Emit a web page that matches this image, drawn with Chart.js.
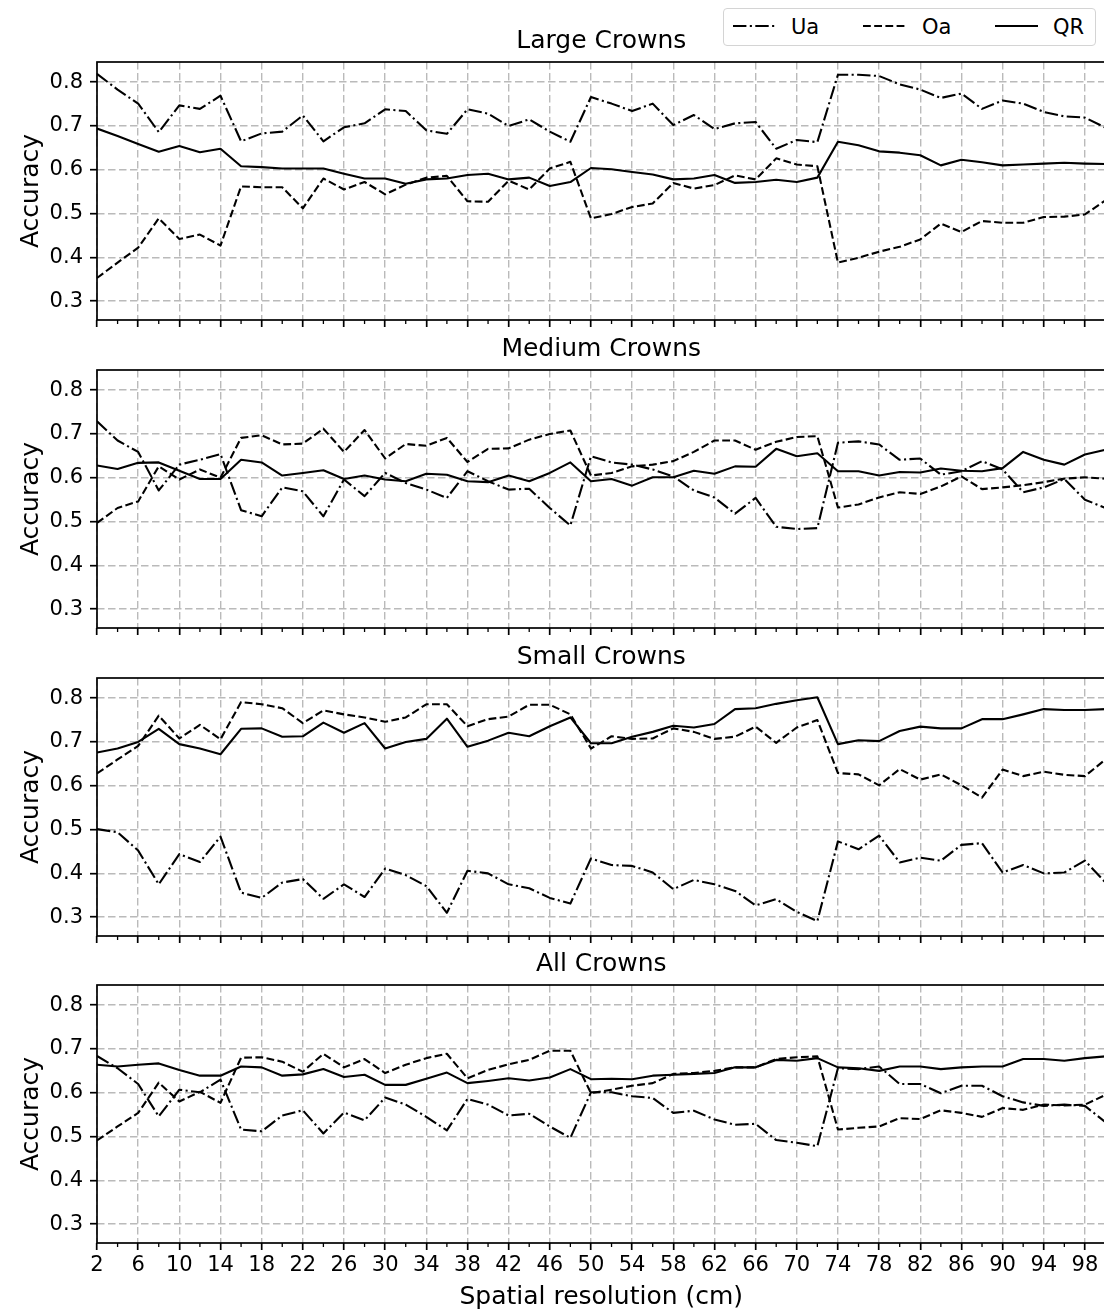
<!DOCTYPE html>
<html lang="en">
<head>
    <meta charset="UTF-8">
    <title>Accuracy vs spatial resolution</title>
    <script src="https://cdn.jsdelivr.net/npm/chart.js"></script>
    <style>
        html, body {
            margin: 0;
            padding: 0;
            width: 1104px;
            height: 1312px;
            overflow: hidden;
            background: #fff;
            font-family: 'DejaVu Sans', sans-serif;
        }
        .panel {
            position: absolute;
            left: 0;
        }
        #legend {
            position: absolute;
            left: 723px;
            top: 8px;
            width: 371px;
            height: 36px;
            border: 1px solid #d4d4d4;
            border-radius: 4px;
            background: #fff;
        }
        #legend svg, #legend span {
            position: absolute;
        }
        #legend span {
            top: 8px;
            font-size: 21px;
            line-height: 21px;
            color: #000;
        }
    </style>
</head>
<body>
    <canvas id="chartLarge" class="panel" width="1130" height="314" style="top:26px"></canvas>
    <canvas id="chartMedium" class="panel" width="1130" height="314" style="top:334px"></canvas>
    <canvas id="chartSmall" class="panel" width="1130" height="314" style="top:642px"></canvas>
    <canvas id="chartAll" class="panel" width="1130" height="363" style="top:949px"></canvas>

    <div id="legend">
        <svg style="left:9px; top:14px" width="44" height="6"><line x1="0" y1="3" x2="44" y2="3" stroke="#000" stroke-width="2.1" stroke-dasharray="13.4 3.4 2.1 3.4"/></svg>
        <span style="left:67px">Ua</span>
        <svg style="left:139px; top:14px" width="42" height="6"><line x1="0" y1="3" x2="42" y2="3" stroke="#000" stroke-width="2.1" stroke-dasharray="7.8 3.4"/></svg>
        <span style="left:198px">Oa</span>
        <svg style="left:271px; top:14px" width="43" height="6"><line x1="0" y1="3" x2="43" y2="3" stroke="#000" stroke-width="2.1"/></svg>
        <span style="left:329px">QR</span>
    </div>

    <script>
        // --- data ---
        const xValues = [2, 4, 6, 8, 10, 12, 14, 16, 18, 20, 22, 24, 26, 28, 30, 32, 34, 36, 38, 40, 42, 44, 46, 48, 50,
                         52, 54, 56, 58, 60, 62, 64, 66, 68, 70, 72, 74, 76, 78, 80, 82, 84, 86, 88, 90, 92, 94, 96, 98, 100];
        const xTickLabels = ['2', '6', '10', '14', '18', '22', '26', '30', '34', '38', '42', '46', '50',
                             '54', '58', '62', '66', '70', '74', '78', '82', '86', '90', '94', '98'];
        const yTicks = [0.3, 0.4, 0.5, 0.6, 0.7, 0.8];

        const largeUa = [0.819, 0.783, 0.751, 0.686, 0.747, 0.739, 0.769, 0.665, 0.683, 0.687, 0.724, 0.665, 0.697, 0.706, 0.738, 0.734, 0.690, 0.682, 0.738, 0.728, 0.700, 0.715, 0.687, 0.664, 0.766,
                         0.751, 0.734, 0.751, 0.702, 0.725, 0.693, 0.706, 0.709, 0.648, 0.668, 0.663, 0.817, 0.817, 0.814, 0.795, 0.783, 0.764, 0.774, 0.739, 0.758, 0.751, 0.732, 0.722, 0.719, 0.696];
        const largeOa = [0.353, 0.388, 0.422, 0.489, 0.442, 0.452, 0.427, 0.562, 0.560, 0.560, 0.512, 0.580, 0.555, 0.572, 0.544, 0.566, 0.582, 0.586, 0.528, 0.527, 0.575, 0.555, 0.603, 0.618, 0.489,
                         0.499, 0.515, 0.523, 0.570, 0.557, 0.565, 0.587, 0.578, 0.626, 0.612, 0.608, 0.388, 0.399, 0.413, 0.424, 0.441, 0.477, 0.458, 0.483, 0.479, 0.479, 0.492, 0.493, 0.498, 0.530];
        const largeQR = [0.694, 0.677, 0.659, 0.641, 0.654, 0.640, 0.648, 0.608, 0.606, 0.603, 0.603, 0.603, 0.591, 0.580, 0.580, 0.568, 0.578, 0.580, 0.588, 0.591, 0.578, 0.582, 0.563, 0.572, 0.604,
                         0.601, 0.595, 0.589, 0.578, 0.580, 0.588, 0.570, 0.572, 0.577, 0.572, 0.582, 0.664, 0.656, 0.642, 0.639, 0.633, 0.610, 0.623, 0.617, 0.610, 0.612, 0.614, 0.616, 0.614, 0.613];

        const mediumUa = [0.729, 0.685, 0.659, 0.571, 0.630, 0.641, 0.654, 0.526, 0.512, 0.578, 0.569, 0.512, 0.596, 0.558, 0.611, 0.588, 0.573, 0.554, 0.615, 0.592, 0.573, 0.575, 0.531, 0.491, 0.649,
                          0.635, 0.630, 0.619, 0.603, 0.571, 0.555, 0.518, 0.554, 0.488, 0.483, 0.485, 0.680, 0.683, 0.676, 0.641, 0.644, 0.607, 0.615, 0.638, 0.619, 0.567, 0.578, 0.597, 0.550, 0.531];
        const mediumOa = [0.497, 0.531, 0.546, 0.626, 0.596, 0.619, 0.600, 0.691, 0.697, 0.676, 0.678, 0.712, 0.659, 0.709, 0.644, 0.677, 0.673, 0.691, 0.636, 0.666, 0.667, 0.687, 0.700, 0.708, 0.605,
                          0.611, 0.626, 0.630, 0.638, 0.659, 0.685, 0.685, 0.664, 0.682, 0.693, 0.695, 0.532, 0.539, 0.555, 0.567, 0.563, 0.580, 0.603, 0.574, 0.578, 0.583, 0.590, 0.598, 0.601, 0.598];
        const mediumQR = [0.628, 0.620, 0.634, 0.635, 0.616, 0.597, 0.597, 0.641, 0.635, 0.605, 0.611, 0.617, 0.597, 0.605, 0.596, 0.592, 0.609, 0.607, 0.592, 0.590, 0.605, 0.592, 0.611, 0.635, 0.592,
                          0.597, 0.582, 0.601, 0.601, 0.616, 0.609, 0.626, 0.625, 0.666, 0.649, 0.656, 0.615, 0.615, 0.605, 0.613, 0.612, 0.621, 0.616, 0.615, 0.622, 0.659, 0.641, 0.630, 0.653, 0.664];

        const smallUa = [0.501, 0.494, 0.452, 0.375, 0.444, 0.426, 0.484, 0.356, 0.344, 0.379, 0.387, 0.342, 0.375, 0.346, 0.411, 0.396, 0.371, 0.310, 0.406, 0.400, 0.375, 0.366, 0.344, 0.331, 0.434,
                         0.419, 0.417, 0.402, 0.364, 0.385, 0.375, 0.360, 0.327, 0.341, 0.312, 0.291, 0.473, 0.455, 0.486, 0.425, 0.436, 0.429, 0.465, 0.469, 0.402, 0.419, 0.400, 0.402, 0.429, 0.379];
        const smallOa = [0.628, 0.660, 0.691, 0.760, 0.708, 0.739, 0.706, 0.791, 0.786, 0.777, 0.743, 0.772, 0.763, 0.756, 0.746, 0.756, 0.786, 0.786, 0.736, 0.752, 0.758, 0.785, 0.785, 0.763, 0.685,
                         0.713, 0.707, 0.708, 0.731, 0.723, 0.707, 0.712, 0.735, 0.698, 0.733, 0.750, 0.629, 0.626, 0.601, 0.638, 0.614, 0.626, 0.601, 0.573, 0.637, 0.622, 0.632, 0.625, 0.622, 0.660];
        const smallQR = [0.676, 0.685, 0.700, 0.730, 0.695, 0.685, 0.672, 0.730, 0.731, 0.712, 0.713, 0.744, 0.721, 0.743, 0.685, 0.700, 0.707, 0.753, 0.689, 0.703, 0.721, 0.713, 0.736, 0.756, 0.697,
                         0.697, 0.712, 0.723, 0.737, 0.733, 0.741, 0.775, 0.777, 0.787, 0.795, 0.802, 0.695, 0.704, 0.702, 0.725, 0.735, 0.731, 0.731, 0.752, 0.752, 0.763, 0.775, 0.773, 0.773, 0.775];

        const allUa = [0.684, 0.656, 0.620, 0.546, 0.607, 0.601, 0.630, 0.516, 0.512, 0.548, 0.560, 0.507, 0.555, 0.537, 0.589, 0.573, 0.545, 0.514, 0.586, 0.573, 0.548, 0.552, 0.523, 0.497, 0.601,
                       0.601, 0.592, 0.588, 0.554, 0.559, 0.539, 0.527, 0.529, 0.492, 0.486, 0.478, 0.656, 0.654, 0.660, 0.620, 0.620, 0.599, 0.616, 0.616, 0.592, 0.578, 0.570, 0.573, 0.570, 0.533];
        const allOa = [0.491, 0.523, 0.554, 0.623, 0.580, 0.602, 0.577, 0.680, 0.681, 0.671, 0.648, 0.689, 0.658, 0.677, 0.645, 0.664, 0.679, 0.689, 0.633, 0.652, 0.665, 0.675, 0.696, 0.696, 0.599,
                       0.607, 0.616, 0.622, 0.643, 0.645, 0.650, 0.658, 0.658, 0.677, 0.681, 0.683, 0.516, 0.520, 0.523, 0.542, 0.540, 0.560, 0.554, 0.545, 0.565, 0.561, 0.573, 0.571, 0.573, 0.595];
        const allQR = [0.664, 0.660, 0.664, 0.667, 0.652, 0.639, 0.639, 0.660, 0.658, 0.639, 0.642, 0.654, 0.636, 0.641, 0.618, 0.618, 0.632, 0.646, 0.622, 0.627, 0.633, 0.628, 0.635, 0.654, 0.631,
                       0.632, 0.631, 0.639, 0.641, 0.643, 0.645, 0.658, 0.658, 0.675, 0.673, 0.679, 0.658, 0.656, 0.650, 0.660, 0.660, 0.654, 0.658, 0.660, 0.660, 0.677, 0.677, 0.673, 0.679, 0.683];

        // --- styling ---
        Chart.defaults.font.family = "'DejaVu Sans', sans-serif";
        Chart.defaults.color = '#000';

        const gridColor = '#bababa';
        const dashUa = [13.4, 3.4, 2.1, 3.4];
        const dashOa = [7.8, 3.4];

        function isMajorX(v) {
            return xTickLabels.includes(String(v));
        }

        // box round the axes + short minor ticks on x
        const frameAndMinorTicks = {
            id: 'frameAndMinorTicks',
            afterDraw(chart) {
                const { ctx, chartArea: a, scales: { x } } = chart;
                ctx.save();
                ctx.strokeStyle = '#000';
                ctx.setLineDash([]);
                ctx.lineWidth = 1.3;
                x.ticks.forEach(t => {
                    if (isMajorX(t.value)) return;
                    const px = x.getPixelForValue(t.value);
                    ctx.beginPath();
                    ctx.moveTo(px, a.bottom);
                    ctx.lineTo(px, a.bottom + 4);
                    ctx.stroke();
                });
                ctx.lineWidth = 1.7;
                ctx.strokeRect(a.left, a.top, a.right - a.left, a.bottom - a.top);
                ctx.restore();
            }
        };

        function series(label, values, dash) {
            return {
                label: label,
                data: xValues.map((x, i) => ({ x: x, y: values[i] })),
                borderColor: '#000',
                borderWidth: 2.1,
                borderDash: dash,
                borderJoinStyle: 'round',
                pointRadius: 0,
                tension: 0,
                fill: false
            };
        }

        function makePanel(canvasId, title, ua, oa, qr, isBottom) {
            const ctx = document.getElementById(canvasId).getContext('2d');
            return new Chart(ctx, {
                type: 'line',
                data: {
                    datasets: [
                        series('Ua', ua, dashUa),
                        series('Oa', oa, dashOa),
                        series('QR', qr, [])
                    ]
                },
                options: {
                    responsive: false,
                    animation: false,
                    layout: { padding: { left: 0, right: 24.5, top: 0, bottom: 0 } },
                    plugins: {
                        legend: { display: false },
                        tooltip: { enabled: false },
                        title: {
                            display: true,
                            text: title,
                            fullSize: false,
                            font: { size: 25, weight: 'normal' },
                            color: '#000',
                            padding: { top: 0, bottom: 6 }
                        }
                    },
                    scales: {
                        x: {
                            type: 'linear',
                            min: 2,
                            max: 100,
                            afterBuildTicks: s => { s.ticks = xValues.filter(v => v < 100).map(v => ({ value: v })); },
                            afterFit: s => { s.height = isBottom ? 69 : 20; s.paddingLeft = 0; s.paddingRight = 0; },
                            ticks: {
                                display: isBottom,
                                autoSkip: false,
                                maxRotation: 0,
                                minRotation: 0,
                                padding: 3,
                                font: { size: 21 },
                                color: '#000',
                                callback: v => isMajorX(v) ? String(v) : ''
                            },
                            grid: {
                                color: c => (c.tick && isMajorX(c.tick.value)) ? gridColor : 'rgba(0,0,0,0)',
                                lineWidth: 1.4,
                                tickLength: 7,
                                tickWidth: 1.7,
                                tickColor: c => (c.tick && isMajorX(c.tick.value)) ? '#000' : 'rgba(0,0,0,0)'
                            },
                            border: { display: false, dash: [7.5, 3.5] },
                            title: {
                                display: isBottom,
                                text: 'Spatial resolution (cm)',
                                font: { size: 25 },
                                color: '#000',
                                padding: 0
                            }
                        },
                        y: {
                            min: 0.257,
                            max: 0.846,
                            afterBuildTicks: s => { s.ticks = yTicks.map(v => ({ value: v })); },
                            afterFit: s => { s.width = 97; s.paddingTop = 0; s.paddingBottom = 0; },
                            ticks: {
                                padding: 7,
                                font: { size: 21 },
                                color: '#000',
                                callback: v => v.toFixed(1)
                            },
                            grid: {
                                color: gridColor,
                                lineWidth: 1.4,
                                tickLength: 7,
                                tickWidth: 1.7,
                                tickColor: '#000'
                            },
                            border: { display: false, dash: [7.5, 3.5] },
                            title: {
                                display: true,
                                text: 'Accuracy',
                                font: { size: 25 },
                                color: '#000',
                                padding: { top: 16, bottom: 0 }
                            }
                        }
                    }
                },
                plugins: [frameAndMinorTicks]
            });
        }

        makePanel('chartLarge', 'Large Crowns', largeUa, largeOa, largeQR, false);
        makePanel('chartMedium', 'Medium Crowns', mediumUa, mediumOa, mediumQR, false);
        makePanel('chartSmall', 'Small Crowns', smallUa, smallOa, smallQR, false);
        makePanel('chartAll', 'All Crowns', allUa, allOa, allQR, true);
    </script>
</body>
</html>
